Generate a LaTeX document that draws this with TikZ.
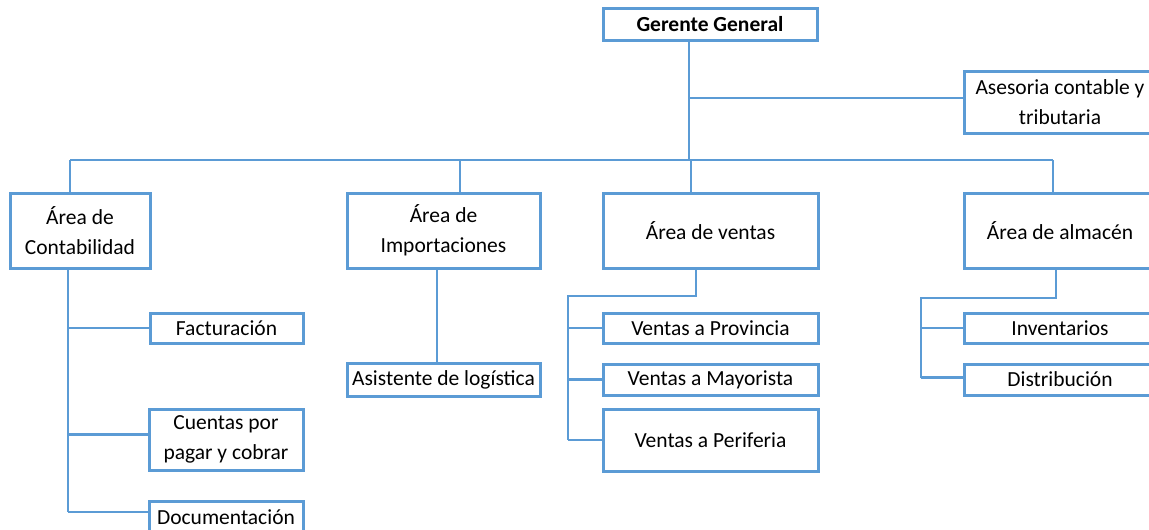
\documentclass[tikz,border=0pt]{standalone}
\usepackage{fontspec}
\setmainfont{Carlito}
\usepackage{tikz}
\definecolor{orgblue}{RGB}{91,155,213}

\begin{document}
\begin{tikzpicture}[x=1pt,y=-1pt,
  box/.style={draw=orgblue,line width=3pt,inner sep=0pt,align=center,
    font=\fontsize{21.5}{30}\selectfont},
  link/.style={draw=orgblue,line width=2.4pt}]
  \useasboundingbox (0,0) rectangle (1149,530);

  % boxes
  \node[box,minimum width=214,minimum height=32,font=\fontsize{21.5}{30}\selectfont\bfseries] (gg) at (710,24) {Gerente General};
  \node[box,minimum width=192,minimum height=62] (ases) at (1060,102) {Asesoria contable y\\tributaria};

  \node[box,minimum width=140,minimum height=75] (cont) at (80,230.5) {Área de\\Contabilidad};
  \node[box,minimum width=193,minimum height=75] (imp) at (443.5,230.5) {Área de\\Importaciones};
  \node[box,minimum width=215,minimum height=75] (vent) at (710.5,230.5) {Área de ventas};
  \node[box,minimum width=192,minimum height=75] (alm) at (1060,230.5) {Área de almacén};

  \node[box,minimum width=153,minimum height=30] (fact) at (226.5,328) {Facturación};
  \node[box,minimum width=154,minimum height=61] (cuen) at (226,439.5) {Cuentas por\\pagar y cobrar};
  \node[box,minimum width=154,minimum height=31] (doc) at (226,517) {Documentación};

  \node[box,minimum width=193,minimum height=33] (asis) at (443.5,379.5) {Asistente de logística};

  \node[box,minimum width=215,minimum height=30] (vprov) at (710.5,328) {Ventas a Provincia};
  \node[box,minimum width=215,minimum height=31] (vmay) at (710.5,379.5) {Ventas a Mayorista};
  \node[box,minimum width=215,minimum height=62] (vper) at (710.5,440) {Ventas a Periferia};

  \node[box,minimum width=192,minimum height=30] (inv) at (1060,328) {Inventarios};
  \node[box,minimum width=192,minimum height=31] (dist) at (1060,379.5) {Distribución};

  % bus points
  \coordinate (gx) at (689,160);
  \coordinate (bl) at (70,160);
  \coordinate (bi) at (460,160);
  \coordinate (bv) at (691,160);
  \coordinate (br) at (1053,160);

  \draw[link] (gx |- gg.south) -- (gx);
  \draw[link] (gx |- ases.west) ++(0,-4) -- ([yshift=4pt]ases.west);
  \draw[link] (bl) -- (br);
  \draw[link] (bl) -- (bl |- cont.north);
  \draw[link] (bi) -- (bi |- imp.north);
  \draw[link] (bv) -- (bv |- vent.north);
  \draw[link] (br) -- (br |- alm.north);

  % contabilidad
  \coordinate (cx) at (68,0);
  \draw[link] (cx |- cont.south) -- ([yshift=5pt]cx |- doc.west);
  \draw[link] (cx |- fact.west) -- (fact.west);
  \draw[link] ([yshift=5pt]cx |- cuen.west) -- ([yshift=5pt]cuen.west);
  \draw[link] ([yshift=5pt]cx |- doc.west) -- ([yshift=5pt]doc.west);

  % importaciones
  \coordinate (ix) at (437,0);
  \draw[link] (ix |- imp.south) -- (ix |- asis.north);

  % ventas
  \coordinate (vx) at (696,296);
  \coordinate (vl) at (568,296);
  \draw[link] (vx |- vent.south) -- (vx) -- (vl) -- (vl |- vper.west);
  \draw[link] (vl |- vprov.west) -- (vprov.west);
  \draw[link] (vl |- vmay.west) -- (vmay.west);
  \draw[link] (vl |- vper.west) -- (vper.west);

  % almacen
  \coordinate (ax) at (1056,298);
  \coordinate (al) at (921,298);
  \draw[link] (ax |- alm.south) -- (ax) -- (al) -- ([yshift=2pt]al |- dist.west);
  \draw[link] (al |- inv.west) -- (inv.west);
  \draw[link] ([yshift=2pt]al |- dist.west) -- ([yshift=2pt]dist.west);
\end{tikzpicture}
\end{document}
